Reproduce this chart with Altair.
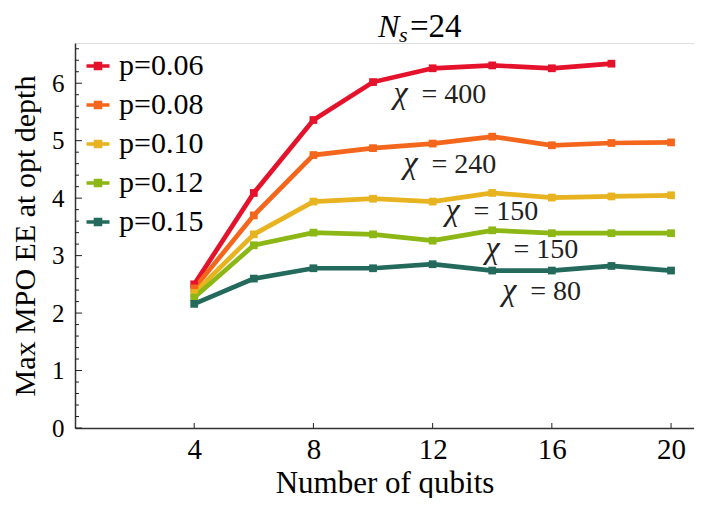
import altair as alt
import pandas as pd

qubits = [4, 6, 8, 10, 12, 14, 16, 18, 20]
labels = ["p=0.06", "p=0.08", "p=0.10", "p=0.12", "p=0.15"]
ee_p006 = [2.50, 4.09, 5.36, 6.02, 6.26, 6.31, 6.26, 6.34]
ee_p008 = [2.43, 3.70, 4.75, 4.87, 4.95, 5.07, 4.92, 4.96, 4.97]
ee_p010 = [2.35, 3.37, 3.94, 3.99, 3.94, 4.09, 4.01, 4.03, 4.05]
ee_p012 = [2.27, 3.18, 3.40, 3.37, 3.26, 3.44, 3.39, 3.39, 3.39]
ee_p015 = [2.16, 2.60, 2.78, 2.78, 2.85, 2.74, 2.74, 2.82, 2.74]
series = [ee_p006, ee_p008, ee_p010, ee_p012, ee_p015]
colors = ["#E4122A", "#F4661B", "#E8B320", "#8DB715", "#236A5C"]

# annotation anchors (left edge of text)
ann_x = [10.65, 10.99, 12.40, 13.74, 14.30]
ann_y = [5.79, 4.57, 3.76, 3.10, 2.37]
ann_chi = ["χ", "χ", "χ", "χ", "χ"]
ann_text = ["= 400", "= 240", "= 150", "= 150", "= 80"]

x_ticks = [4, 8, 12, 16, 20]
y_ticks = [0, 1, 2, 3, 4, 5, 6]
y_minor = [round(i * 0.2, 1) for i in range(34) if i % 5 != 0]

FONT = "Liberation Serif"
W, H = 619, 385
XDOM = [0, 20.77]
YDOM = [0, 6.7]

rows = []
for lab, vals in zip(labels, series):
    for q, v in zip(qubits, vals):
        rows.append({"qubits": q, "ee": v, "p": lab})
df = pd.DataFrame(rows)

xscale = alt.Scale(domain=XDOM, nice=False, zero=False)
yscale = alt.Scale(domain=YDOM, nice=False)
cscale = alt.Scale(domain=labels, range=colors)

x_axis = alt.Axis(values=x_ticks, title="Number of qubits", ticks=False, domain=True,
                  domainColor="#333333", domainWidth=1.5,
                  grid=False, labelFont=FONT, labelFontSize=29, labelColor="black",
                  labelPadding=7, labelFlush=False, titleFont=FONT, titleFontSize=31,
                  titleFontWeight="normal", titleColor="black",
                  titleY=64, titleBaseline="alphabetic")
y_axis = alt.Axis(values=y_ticks, title="Max MPO EE at opt depth", ticks=False,
                  domain=True, domainColor="#333333", domainWidth=1.5,
                  grid=False, labelFont=FONT, labelFontSize=25,
                  labelColor="black", labelPadding=11, labelFlush=False,
                  titleFont=FONT, titleFontSize=30, titleFontWeight="normal",
                  titleColor="black", titleX=-50, titleY=H / 2, titleAngle=-90,
                  titleAlign="center", titleBaseline="middle")


def X(field):
    return alt.X(field, scale=xscale, axis=x_axis)


def Y(field):
    return alt.Y(field, scale=yscale, axis=y_axis)


legend = alt.Legend(title=None, orient="none", legendX=8, legendY=8,
                    symbolType="M-1,0L1,0M-0.22,-0.22L0.22,-0.22L0.22,0.22L-0.22,0.22Z",
                    symbolSize=529, symbolStrokeWidth=3.5, labelFont=FONT, labelFontSize=30,
                    labelColor="black", labelOffset=6, rowPadding=9, padding=0)

lines = alt.Chart(df).mark_line(strokeWidth=4.7).encode(
    x=X("qubits:Q"), y=Y("ee:Q"), color=alt.Color("p:N", scale=cscale, legend=legend))

points = alt.Chart(df).mark_point(shape="square", filled=True, size=60, opacity=1).encode(
    x=X("qubits:Q"), y=Y("ee:Q"),
    color=alt.Color("p:N", scale=cscale, legend=legend))

ann_df = pd.DataFrame({"x": ann_x, "y": ann_y, "c": ann_chi, "t": ann_text})
ann_chi_mark = alt.Chart(ann_df).mark_text(font=FONT, fontSize=32, fontStyle="italic",
                                           color="#222222", align="left", dx=1, dy=-2,
                                           baseline="middle").encode(
    x=X("x:Q"), y=Y("y:Q"), text="c:N")
ann_rest = alt.Chart(ann_df).mark_text(font=FONT, fontSize=28, color="#222222",
                                       align="left", baseline="middle", dx=29).encode(
    x=X("x:Q"), y=Y("y:Q"), text="t:N")

ymaj = alt.Chart(pd.DataFrame({"v": y_ticks})).mark_rule(color="#222222", strokeWidth=1).encode(
    y=Y("v:Q"), x=alt.value(0), x2=alt.value(7))
ymin = alt.Chart(pd.DataFrame({"v": y_minor})).mark_rule(color="#222222", strokeWidth=1).encode(
    y=Y("v:Q"), x=alt.value(0), x2=alt.value(4))
xmaj = alt.Chart(pd.DataFrame({"v": x_ticks})).mark_rule(color="#222222", strokeWidth=1).encode(
    x=X("v:Q"), y=alt.value(H), y2=alt.value(H - 5))

t1 = alt.Chart(pd.DataFrame({"t": ["N"]})).mark_text(
    font=FONT, fontSize=32, fontStyle="italic", color="black", align="left",
    baseline="alphabetic").encode(text="t:N", x=alt.value(303), y=alt.value(-6))
t2 = alt.Chart(pd.DataFrame({"t": ["s"]})).mark_text(
    font=FONT, fontSize=22, fontStyle="italic", color="black", align="left",
    baseline="alphabetic").encode(text="t:N", x=alt.value(324), y=alt.value(-1))
t3 = alt.Chart(pd.DataFrame({"t": ["=24"]})).mark_text(
    font=FONT, fontSize=33, color="black", align="left",
    baseline="alphabetic").encode(text="t:N", x=alt.value(335), y=alt.value(-6))

chart = alt.layer(lines, points, ann_chi_mark, ann_rest, ymaj, ymin, xmaj, t1, t2, t3).properties(
    width=W, height=H,
    padding={"left": 67, "top": 35, "right": 0, "bottom": 70},
    autosize=alt.AutoSizeParams(type="none"),
).configure_view(stroke="#333333", strokeWidth=1.5).configure(background="white")

chart.save("out.html", embed_options={"renderer": "svg", "actions": False})
